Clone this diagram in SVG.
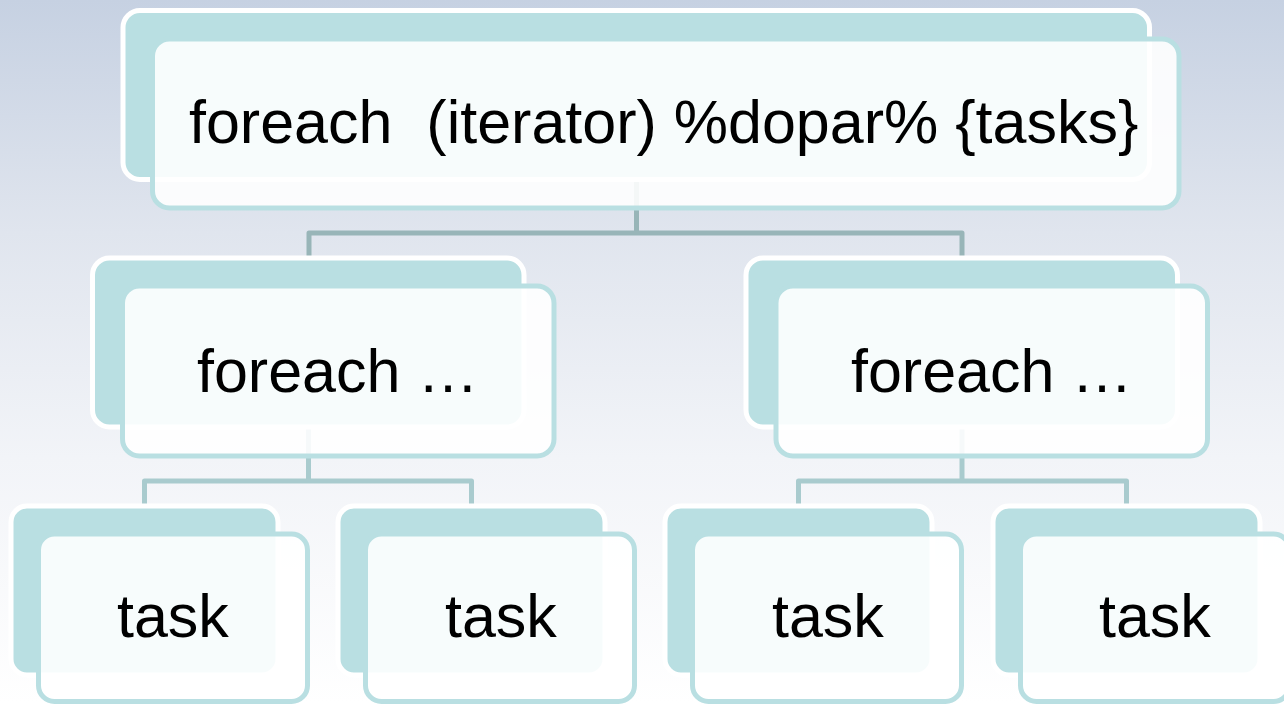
<svg xmlns="http://www.w3.org/2000/svg" width="1284" height="704" viewBox="0 0 1284 704">
  <defs>
    <linearGradient id="bg" x1="0" y1="0" x2="0" y2="1">
      <stop offset="0" stop-color="#c6d1e2"/>
      <stop offset="0.33" stop-color="#e0e5ee"/>
      <stop offset="0.65" stop-color="#f2f4f8"/>
      <stop offset="1" stop-color="#ffffff"/>
    </linearGradient>
    <style>
      .back { fill: #b9dfe2; stroke: #ffffff; stroke-width: 5; }
      .front { fill: #ffffff; fill-opacity: 0.89; stroke: #b9dfe2; stroke-width: 5; }
      .lbl { font-family: "Liberation Sans", Arial, sans-serif; font-size: 61px; fill: #000000; white-space: pre; }
      .conn { fill: none; stroke-width: 5; stroke-linejoin: round; }
      .c1 { stroke: #98b5b8; }
      .c2 { stroke: #a9cbce; }
    </style>
  </defs>
  <rect x="0" y="0" width="1284" height="704" fill="url(#bg)"/>

  <g id="connectors">
    <path class="conn c1" d="M636.5,180 V233 M309,258 V233 H962 V258"/>
    <path class="conn c2" d="M308.5,427 V481 M144.5,506 V481 H471.5 V506"/>
    <path class="conn c2" d="M962,427 V481 M798.5,506 V481 H1126.5 V506"/>
  </g>

  <g id="node-root">
    <rect class="back" x="123" y="10.5" width="1026.5" height="169" rx="17"/>
    <rect class="front" x="152.5" y="39" width="1026.5" height="169" rx="17"/>
    <text class="lbl" x="189" y="143" xml:space="preserve">foreach  (iterator) %dopar% {tasks}</text>
  </g>

  <g id="node-foreach-left">
    <rect class="back" x="92.5" y="258" width="431.5" height="169" rx="17"/>
    <rect class="front" x="122.5" y="286" width="431.5" height="170" rx="17"/>
    <text class="lbl" x="197" y="392">foreach …</text>
  </g>

  <g id="node-foreach-right">
    <rect class="back" x="746" y="258" width="431.5" height="169" rx="17"/>
    <rect class="front" x="776" y="286" width="431.5" height="170" rx="17"/>
    <text class="lbl" x="851" y="392">foreach …</text>
  </g>

  <g id="node-task-1">
    <rect class="back" x="11" y="506" width="267" height="169" rx="16"/>
    <rect class="front" x="38.5" y="534" width="269" height="167.5" rx="16"/>
    <text class="lbl" x="117" y="637">task</text>
  </g>

  <g id="node-task-2">
    <rect class="back" x="338" y="506" width="267" height="169" rx="16"/>
    <rect class="front" x="365.5" y="534" width="269" height="167.5" rx="16"/>
    <text class="lbl" x="445" y="637">task</text>
  </g>

  <g id="node-task-3">
    <rect class="back" x="665" y="506" width="267" height="169" rx="16"/>
    <rect class="front" x="692.5" y="534" width="269" height="167.5" rx="16"/>
    <text class="lbl" x="772" y="637">task</text>
  </g>

  <g id="node-task-4">
    <rect class="back" x="993" y="506" width="267" height="169" rx="16"/>
    <rect class="front" x="1020.5" y="534" width="269" height="167.5" rx="16"/>
    <text class="lbl" x="1099" y="637">task</text>
  </g>
</svg>
